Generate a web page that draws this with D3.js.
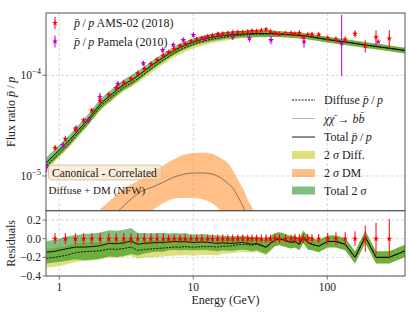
<!DOCTYPE html>
<html>
<head>
<meta charset="utf-8">
<script src="https://cdnjs.cloudflare.com/ajax/libs/d3/7.8.5/d3.min.js"></script>
<style>
  body { margin: 0; background: #fff; }
  svg { font-family: "Liberation Serif", "Times New Roman", serif; }
</style>
</head>
<body>
<script>
// ---- data ----
var amsE = [0.93, 1.11, 1.32, 1.52, 1.75, 2.02, 2.34, 2.66, 3.03, 3.43,
            3.85, 4.31, 4.83, 5.36, 5.97, 6.55, 7.21, 7.96, 8.71, 9.61,
            10.6, 11.6, 12.8, 13.9, 15.2, 16.6, 18.1, 19.7, 21.5, 23.4,
            25.5, 27.4, 29.7, 32.2, 34.9, 37.6, 40.7, 43.9, 48.8,
            53.6, 57.4, 61.8, 66.2, 71.4, 76.9, 86.3, 100.7, 116, 136, 161, 192, 231, 290];
var amsRatio = [1.90e-5, 2.33e-5, 2.90e-5, 3.58e-5, 4.47e-5, 5.56e-5, 6.42e-5, 7.48e-5, 8.44e-5, 9.17e-5,
                1.051e-4, 1.160e-4, 1.295e-4, 1.422e-4, 1.568e-4, 1.692e-4, 1.816e-4, 1.963e-4, 2.046e-4, 2.186e-4,
                2.283e-4, 2.346e-4, 2.428e-4, 2.495e-4, 2.559e-4, 2.583e-4, 2.625e-4, 2.667e-4, 2.673e-4, 2.673e-4,
                2.716e-4, 2.760e-4, 2.735e-4, 2.792e-4, 2.850e-4, 2.729e-4, 2.613e-4, 2.571e-4, 2.601e-4,
                2.625e-4, 2.577e-4, 2.636e-4, 2.412e-4, 2.536e-4, 2.548e-4, 2.542e-4, 2.335e-4, 2.272e-4, 2.272e-4,
                2.583e-4, 1.959e-4, 2.395e-4, 2.325e-4];
var amsRelErr = [0.06, 0.06, 0.06, 0.06, 0.06, 0.06, 0.06, 0.06, 0.06, 0.06,
                 0.06, 0.06, 0.06, 0.06, 0.06, 0.045, 0.045, 0.045, 0.045, 0.045,
                 0.045, 0.045, 0.045, 0.045, 0.045, 0.045, 0.045, 0.045, 0.045, 0.045,
                 0.045, 0.045, 0.045, 0.045, 0.045, 0.045, 0.045, 0.045, 0.045,
                 0.045, 0.05, 0.05, 0.05, 0.05, 0.05, 0.05, 0.06, 0.07, 0.07, 0.08, 0.14, 0.17, 0.21];

var pamE = [0.805, 1.07, 1.33, 1.65, 2.01, 2.74, 4.24, 5.91, 7.09, 8.42, 10.0, 12.2, 15.4, 19.7, 26.2, 38.0, 67.0, 128, 240];
var pamRatio = [1.24e-5, 2.03e-5, 2.98e-5, 3.60e-5, 6.09e-5, 8.19e-5, 1.316e-4, 1.783e-4, 2.0e-4, 2.241e-4,
                2.513e-4, 2.33e-4, 2.513e-4, 2.417e-4, 2.33e-4, 2.241e-4, 2.157e-4, 2.078e-4, 2.157e-4];
var pamErrLo = [1.5e-6, 1.4e-6, 2.0e-6, 2.5e-6, 6e-6, 6e-6, 8e-6, 1.1e-5, 1.2e-5, 1.3e-5,
                1.5e-5, 1.5e-5, 1.7e-5, 1.8e-5, 2.0e-5, 2.2e-5, 2.8e-5, 1.1e-4, 0];
var pamErrHi = [1.5e-6, 1.4e-6, 2.0e-6, 2.5e-6, 6e-6, 6e-6, 8e-6, 1.1e-5, 1.2e-5, 1.3e-5,
                1.5e-5, 1.5e-5, 1.7e-5, 1.8e-5, 2.0e-5, 2.2e-5, 2.8e-5, 1.9e-4, 0];

// model curves, top panel
var modelE = [0.8, 0.9, 1, 1.2, 1.4, 1.6, 1.8, 2, 2.5, 3, 3.5, 4, 5, 6, 7, 8, 10, 12, 15, 20,
              25, 30, 40, 50, 70, 100, 150, 200, 300, 380];
var totalFlux = [1.36e-5, 1.58e-5, 1.81e-5, 2.30e-5, 2.90e-5, 3.52e-5, 4.27e-5, 5.07e-5, 6.60e-5, 8.01e-5,
                 9.08e-5, 1.025e-4, 1.28e-4, 1.512e-4, 1.723e-4, 1.897e-4, 2.141e-4, 2.293e-4, 2.428e-4, 2.542e-4,
                 2.583e-4, 2.601e-4, 2.589e-4, 2.542e-4, 2.445e-4, 2.267e-4, 2.102e-4, 1.986e-4, 1.845e-4, 1.763e-4];
var totalRelErr = [0.12, 0.12, 0.12, 0.12, 0.12, 0.12, 0.12, 0.12, 0.12, 0.12,
                   0.12, 0.11, 0.1, 0.1, 0.09, 0.09, 0.085, 0.085, 0.08, 0.075,
                   0.075, 0.075, 0.07, 0.065, 0.065, 0.065, 0.065, 0.065, 0.065, 0.065];
var diffuseFlux = [1.265e-5, 1.469e-5, 1.683e-5, 2.151e-5, 2.726e-5, 3.326e-5, 4.035e-5, 4.791e-5, 6.204e-5, 7.529e-5,
                   8.49e-5, 9.58e-5, 1.197e-4, 1.421e-4, 1.620e-4, 1.793e-4, 2.034e-4, 2.190e-4, 2.331e-4, 2.466e-4,
                   2.531e-4, 2.562e-4, 2.576e-4, 2.542e-4, 2.445e-4, 2.267e-4, 2.102e-4, 1.986e-4, 1.845e-4, 1.763e-4];
var diffRelErr = [0.09, 0.09, 0.09, 0.09, 0.09, 0.09, 0.09, 0.09, 0.09, 0.09,
                  0.09, 0.09, 0.09, 0.09, 0.09, 0.09, 0.09, 0.09, 0.085, 0.08,
                  0.075, 0.075, 0.07, 0.065, 0.065, 0.065, 0.065, 0.065, 0.065, 0.065];

// dark matter (chi chi-bar -> b b-bar) contribution
var dmE = [1.5, 2, 2.5, 3, 4, 5, 6, 7, 8, 10, 12, 14, 16, 18, 20, 22, 24, 26, 28, 30];
var dmMid = [2.0e-6, 3.0e-6, 4.0e-6, 5.0e-6, 6.9e-6, 7.8e-6, 8.7e-6, 9.6e-6, 1.02e-5, 1.07e-5,
             1.07e-5, 1.04e-5, 9.6e-6, 8.5e-6, 7.4e-6, 5.9e-6, 4.7e-6, 3.5e-6, 2.3e-6, 1.5e-6];
var dmLo = [7.4e-7, 1.3e-6, 1.8e-6, 2.3e-6, 3.5e-6, 4.6e-6, 5.4e-6, 5.9e-6, 6.05e-6, 6.05e-6,
            5.8e-6, 5.3e-6, 4.5e-6, 3.5e-6, 2.6e-6, 1.9e-6, 1.3e-6, 9e-7, 6e-7, 4e-7];
var dmHi = [3.0e-6, 4.6e-6, 6.0e-6, 7.4e-6, 9.1e-6, 1.1e-5, 1.28e-5, 1.44e-5, 1.58e-5, 1.69e-5,
            1.71e-5, 1.65e-5, 1.51e-5, 1.35e-5, 1.1e-5, 8.7e-6, 7.1e-6, 5.5e-6, 4.6e-6, 3.5e-6];

// residual panel: first/last entries are the panel edges
var resE = [0.8].concat(amsE).concat([380]);
var resTotal = [-0.145, -0.135, -0.11, -0.09, -0.09, -0.085, -0.075, -0.05, -0.055, -0.045, -0.025, -0.06, -0.05, -0.045, -0.04, -0.04,
                -0.035, -0.03, -0.035, -0.03, -0.04, -0.04, -0.035, -0.04, -0.045, -0.05,
                -0.045, -0.05, -0.05, -0.045, -0.04, -0.05, -0.06, -0.05, -0.07, -0.09, -0.05,
                -0.01, 0.0, -0.02, -0.04, -0.03, -0.06, 0.02, -0.04, -0.06, -0.08, -0.03, -0.03, -0.06, -0.2, 0.02, -0.2, -0.2,
                -0.13];
var resTotalErr = [0.12, 0.12, 0.13, 0.13, 0.14, 0.14, 0.14, 0.14, 0.14, 0.14, 0.14, 0.12, 0.11, 0.1, 0.1, 0.1,
                   0.09, 0.09, 0.09, 0.09, 0.085, 0.085, 0.085, 0.085, 0.085, 0.085,
                   0.08, 0.08, 0.08, 0.075, 0.075, 0.075, 0.075, 0.075, 0.075, 0.075, 0.075,
                   0.07, 0.07, 0.07, 0.065, 0.065, 0.065, 0.065, 0.075, 0.065, 0.065, 0.065, 0.065, 0.065, 0.065, 0.065, 0.065, 0.065,
                   0.065];
var resDiff = [-0.21, -0.2, -0.18, -0.15, -0.14, -0.135, -0.13, -0.11, -0.115, -0.105, -0.09, -0.125, -0.115, -0.11, -0.105, -0.1,
               -0.095, -0.09, -0.09, -0.085, -0.09, -0.09, -0.085, -0.085, -0.085, -0.09,
               -0.08, -0.08, -0.075, -0.065, -0.06, -0.065, -0.07, -0.06, -0.075, -0.095, -0.055,
               -0.012, 0.0, -0.02, -0.04, -0.03, -0.06, 0.02, -0.04, -0.06, -0.08, -0.03, -0.03, -0.06, -0.2, 0.02, -0.2, -0.2,
               -0.13];
var resDiffErr = [0.1, 0.1, 0.1, 0.1, 0.1, 0.1, 0.09, 0.09, 0.09, 0.09, 0.09, 0.09, 0.09, 0.09, 0.09, 0.09,
                  0.09, 0.09, 0.09, 0.09, 0.09, 0.09, 0.09, 0.09, 0.09, 0.09,
                  0.08, 0.08, 0.08, 0.08, 0.08, 0.08, 0.08, 0.08, 0.08, 0.08, 0.08,
                  0.07, 0.07, 0.07, 0.065, 0.065, 0.065, 0.065, 0.075, 0.065, 0.065, 0.065, 0.065, 0.065, 0.065, 0.065, 0.065, 0.065,
                  0.065];

var xTicks = [1, 10, 100];
var yTicks = [1e-5, 1e-4];
var resTicks = [-0.4, -0.2, 0.0, 0.2];

// ---- layout ----
var W = 409, H = 312;
var pLeft = 46, pRight = 405, pTop = 13, pMid = 210.7, pBottom = 276;

var svg = d3.select("body").append("svg").attr("width", W).attr("height", H);

var x = d3.scaleLog().domain([0.796, 380]).range([pLeft, pRight]);
var y = d3.scaleLog().domain([4.52e-6, 4.157e-4]).range([pMid, pTop]);
var yr = d3.scaleLinear().domain([-0.4, 0.3]).range([pBottom, pMid]);

var colYellow = "#bfbf00", colOrange = "#ff7f0e", colGreen = "#008000";
var red = "#ff0000", magenta = "#c000c0";

var defs = svg.append("defs");
defs.append("clipPath").attr("id", "clipTop").append("rect")
  .attr("x", pLeft).attr("y", pTop).attr("width", pRight - pLeft).attr("height", pMid - pTop);
defs.append("clipPath").attr("id", "clipRes").append("rect")
  .attr("x", pLeft).attr("y", pMid).attr("width", pRight - pLeft).attr("height", pBottom - pMid);

// grid lines
var grid = svg.append("g").attr("stroke", "#cfcfcf").attr("stroke-width", 0.8).attr("stroke-dasharray", "3,2");
xTicks.forEach(function(t) {
  grid.append("line").attr("x1", x(t)).attr("x2", x(t)).attr("y1", pTop).attr("y2", pBottom);
});
yTicks.forEach(function(t) {
  grid.append("line").attr("x1", pLeft).attr("x2", pRight).attr("y1", y(t)).attr("y2", y(t));
});
resTicks.forEach(function(t) {
  grid.append("line").attr("x1", pLeft).attr("x2", pRight).attr("y1", yr(t)).attr("y2", yr(t));
});

// ---- top panel ----
var topG = svg.append("g").attr("clip-path", "url(#clipTop)");

var model = modelE.map(function(e, i) {
  return {e: e, t: totalFlux[i], tlo: totalFlux[i] * (1 - totalRelErr[i]), thi: totalFlux[i] * (1 + totalRelErr[i]),
          d: diffuseFlux[i], dlo: diffuseFlux[i] * (1 - diffRelErr[i]), dhi: diffuseFlux[i] * (1 + diffRelErr[i])};
});
var dm = dmE.map(function(e, i) { return {e: e, m: dmMid[i], lo: dmLo[i], hi: dmHi[i]}; });

var bandArea = function(lo, hi) {
  return d3.area().curve(d3.curveMonotoneX)
    .x(function(d) { return x(d.e); })
    .y0(function(d) { return y(d[lo]); })
    .y1(function(d) { return y(d[hi]); });
};
var curve = function(key) {
  return d3.line().curve(d3.curveMonotoneX)
    .x(function(d) { return x(d.e); })
    .y(function(d) { return y(d[key]); });
};

topG.append("path").datum(model).attr("d", bandArea("dlo", "dhi"))
  .attr("fill", colYellow).attr("fill-opacity", 0.5);
topG.append("path").datum(dm).attr("d", bandArea("lo", "hi"))
  .attr("fill", colOrange).attr("fill-opacity", 0.5);
topG.append("path").datum(model).attr("d", bandArea("tlo", "thi"))
  .attr("fill", colGreen).attr("fill-opacity", 0.5);

topG.append("path").datum(dm).attr("d", curve("m"))
  .attr("fill", "none").attr("stroke", "#555").attr("stroke-width", 0.7);
topG.append("path").datum(model).attr("d", curve("d"))
  .attr("fill", "none").attr("stroke", "#000").attr("stroke-width", 0.9).attr("stroke-dasharray", "2,1.2");
topG.append("path").datum(model).attr("d", curve("t"))
  .attr("fill", "none").attr("stroke", "#000").attr("stroke-width", 0.9);

var star = d3.symbol().type(d3.symbolStar).size(11);

// Pamela points
var pam = pamE.map(function(e, i) { return {e: e, v: pamRatio[i], lo: pamErrLo[i], hi: pamErrHi[i]}; });
var pamG = topG.append("g");
pamG.selectAll("line").data(pam).enter().append("line")
  .attr("x1", function(d) { return x(d.e); }).attr("x2", function(d) { return x(d.e); })
  .attr("y1", function(d) { return y(d.v - d.lo); }).attr("y2", function(d) { return y(d.v + d.hi); })
  .attr("stroke", magenta).attr("stroke-width", 1);
pamG.selectAll("path").data(pam).enter().append("path")
  .attr("d", star).attr("fill", magenta)
  .attr("transform", function(d) { return "translate(" + x(d.e) + "," + y(d.v) + ")"; });

// AMS-02 points
var ams = amsE.map(function(e, i) { return {e: e, v: amsRatio[i], r: amsRelErr[i]}; });
var amsG = topG.append("g");
amsG.selectAll("line").data(ams).enter().append("line")
  .attr("x1", function(d) { return x(d.e); }).attr("x2", function(d) { return x(d.e); })
  .attr("y1", function(d) { return y(d.v * (1 - d.r)); }).attr("y2", function(d) { return y(d.v * (1 + d.r)); })
  .attr("stroke", red).attr("stroke-width", 1);
amsG.selectAll("path").data(ams).enter().append("path")
  .attr("d", star).attr("fill", red)
  .attr("transform", function(d) { return "translate(" + x(d.e) + "," + y(d.v) + ")"; });

// ---- residual panel ----
var resG = svg.append("g").attr("clip-path", "url(#clipRes)");
var res = resE.map(function(e, i) {
  return {e: e, t: resTotal[i], te: resTotalErr[i], d: resDiff[i], de: resDiffErr[i]};
});
resG.append("path").datum(res)
  .attr("d", d3.area().x(function(d) { return x(d.e); })
    .y0(function(d) { return yr(d.d - d.de); }).y1(function(d) { return yr(d.d + d.de); }))
  .attr("fill", colYellow).attr("fill-opacity", 0.5);
resG.append("path").datum(res)
  .attr("d", d3.area().x(function(d) { return x(d.e); })
    .y0(function(d) { return yr(d.t - d.te); }).y1(function(d) { return yr(d.t + d.te); }))
  .attr("fill", colGreen).attr("fill-opacity", 0.5);
resG.append("path").datum(res)
  .attr("d", d3.line().x(function(d) { return x(d.e); }).y(function(d) { return yr(d.d); }))
  .attr("fill", "none").attr("stroke", "#000").attr("stroke-width", 0.9).attr("stroke-dasharray", "2,1.2");
resG.append("path").datum(res)
  .attr("d", d3.line().x(function(d) { return x(d.e); }).y(function(d) { return yr(d.t); }))
  .attr("fill", "none").attr("stroke", "#000").attr("stroke-width", 0.9);

var resPts = resG.append("g");
resPts.selectAll("line").data(ams).enter().append("line")
  .attr("x1", function(d) { return x(d.e); }).attr("x2", function(d) { return x(d.e); })
  .attr("y1", function(d) { return yr(-d.r); }).attr("y2", function(d) { return yr(d.r); })
  .attr("stroke", red).attr("stroke-width", 1);
resPts.selectAll("path").data(ams).enter().append("path")
  .attr("d", star).attr("fill", red)
  .attr("transform", function(d) { return "translate(" + x(d.e) + "," + yr(0) + ")"; });

// ---- frames and axes ----
var frame = svg.append("g").attr("fill", "none").attr("stroke", "#555").attr("stroke-width", 1);
frame.append("rect").attr("x", pLeft).attr("y", pTop).attr("width", pRight - pLeft).attr("height", pMid - pTop);
frame.append("rect").attr("x", pLeft).attr("y", pMid).attr("width", pRight - pLeft).attr("height", pBottom - pMid);

var ticks = svg.append("g").attr("stroke", "#555").attr("stroke-width", 0.8);
xTicks.forEach(function(t) {
  ticks.append("line").attr("x1", x(t)).attr("x2", x(t)).attr("y1", pBottom).attr("y2", pBottom + 3.5);
});
yTicks.forEach(function(t) {
  ticks.append("line").attr("x1", pLeft - 3.5).attr("x2", pLeft).attr("y1", y(t)).attr("y2", y(t));
});
resTicks.forEach(function(t) {
  ticks.append("line").attr("x1", pLeft - 3.5).attr("x2", pLeft).attr("y1", yr(t)).attr("y2", yr(t));
});

var labels = svg.append("g").attr("fill", "#222").attr("font-size", 11.5);
xTicks.forEach(function(t) {
  labels.append("text").attr("x", x(t)).attr("y", 291).attr("text-anchor", "middle").text(t);
});
yTicks.forEach(function(t) {
  var tx = labels.append("text").attr("x", pLeft - 5).attr("y", y(t) + 4).attr("text-anchor", "end");
  tx.append("tspan").text("10");
  tx.append("tspan").attr("dy", -5).attr("font-size", 8.5).text("\u2212" + Math.round(-Math.log10(t)));
});
resTicks.forEach(function(t) {
  labels.append("text").attr("x", pLeft - 5).attr("y", yr(t) + 4).attr("text-anchor", "end")
    .text(d3.format(".1f")(t).replace("-", "\u2212"));
});

function pbarp(t) {
  t.append("tspan").attr("font-style", "italic").text("p\u0304");
  t.append("tspan").text("\u2009/\u2009");
  t.append("tspan").attr("font-style", "italic").text("p");
}

// axis titles
var yl = svg.append("text").attr("transform", "translate(15," + ((pTop + pMid) / 2) + ") rotate(-90)")
  .attr("text-anchor", "middle").attr("font-size", 12).attr("fill", "#222");
yl.append("tspan").text("Flux ratio ");
pbarp(yl);
svg.append("text").attr("transform", "translate(15," + ((pMid + pBottom) / 2) + ") rotate(-90)")
  .attr("text-anchor", "middle").attr("font-size", 12).attr("fill", "#222").text("Residuals");
svg.append("text").attr("x", (pLeft + pRight) / 2).attr("y", 304).attr("text-anchor", "middle")
  .attr("font-size", 12).attr("fill", "#222").text("Energy (GeV)");

// ---- data legend (top left) ----
var dataLeg = [{c: red, label: " AMS-02 (2018)", yy: 23}, {c: magenta, label: " Pamela (2010)", yy: 41.5}];
dataLeg.forEach(function(d) {
  svg.append("line").attr("x1", 55).attr("x2", 55).attr("y1", d.yy - 6).attr("y2", d.yy + 6)
    .attr("stroke", d.c).attr("stroke-width", 1);
  svg.append("path").attr("d", star).attr("fill", d.c).attr("transform", "translate(55," + d.yy + ")");
  var t = svg.append("text").attr("x", 74).attr("y", d.yy + 4).attr("font-size", 12).attr("fill", "#222");
  pbarp(t);
  t.append("tspan").text(d.label);
});

// ---- model legend (bottom right) ----
var lx0 = 292, lx1 = 315, tx0 = 324;
var legRows = [100, 118.5, 137, 155, 173, 190.5];
var lg = svg.append("g").attr("font-size", 12).attr("fill", "#222");
lg.append("line").attr("x1", lx0).attr("x2", lx1).attr("y1", legRows[0]).attr("y2", legRows[0])
  .attr("stroke", "#000").attr("stroke-width", 0.9).attr("stroke-dasharray", "2,1.2");
var t0 = lg.append("text").attr("x", tx0).attr("y", legRows[0] + 4);
t0.append("tspan").text("Diffuse ");
pbarp(t0);
lg.append("line").attr("x1", lx0).attr("x2", lx1).attr("y1", legRows[1]).attr("y2", legRows[1])
  .attr("stroke", "#999").attr("stroke-width", 0.7);
var t1 = lg.append("text").attr("x", tx0).attr("y", legRows[1] + 4);
t1.append("tspan").attr("font-style", "italic").text("\u03c7\u03c7\u0304");
t1.append("tspan").text(" \u2192 ");
t1.append("tspan").attr("font-style", "italic").text("bb\u0304");
lg.append("line").attr("x1", lx0).attr("x2", lx1).attr("y1", legRows[2]).attr("y2", legRows[2])
  .attr("stroke", "#000").attr("stroke-width", 0.9);
var t2 = lg.append("text").attr("x", tx0).attr("y", legRows[2] + 4);
t2.append("tspan").text("Total ");
pbarp(t2);
var patches = [{c: colYellow, a: "2 ", b: " Diff."}, {c: colOrange, a: "2 ", b: " DM"}, {c: colGreen, a: "Total 2 ", b: ""}];
patches.forEach(function(p, i) {
  var yy = legRows[3 + i];
  lg.append("rect").attr("x", lx0).attr("y", yy - 4).attr("width", lx1 - lx0).attr("height", 8)
    .attr("fill", p.c).attr("fill-opacity", 0.5);
  var t = lg.append("text").attr("x", tx0).attr("y", yy + 4);
  t.append("tspan").text(p.a);
  t.append("tspan").attr("font-style", "italic").text("\u03c3");
  t.append("tspan").text(p.b);
});

// ---- annotation box ----
svg.append("rect").attr("x", 48.5).attr("y", 165).attr("width", 113).attr("height", 15).attr("rx", 3)
  .attr("fill", "#f5deb3").attr("fill-opacity", 0.5).attr("stroke", "#c8bca8").attr("stroke-width", 0.8);
svg.append("text").attr("x", 52).attr("y", 176.5).attr("font-size", 11.5).attr("fill", "#222")
  .text("Canonical - Correlated");
svg.append("text").attr("x", 48.5).attr("y", 194).attr("font-size", 11).attr("fill", "#222")
  .text("Diffuse + DM (NFW)");
</script>
</body>
</html>
